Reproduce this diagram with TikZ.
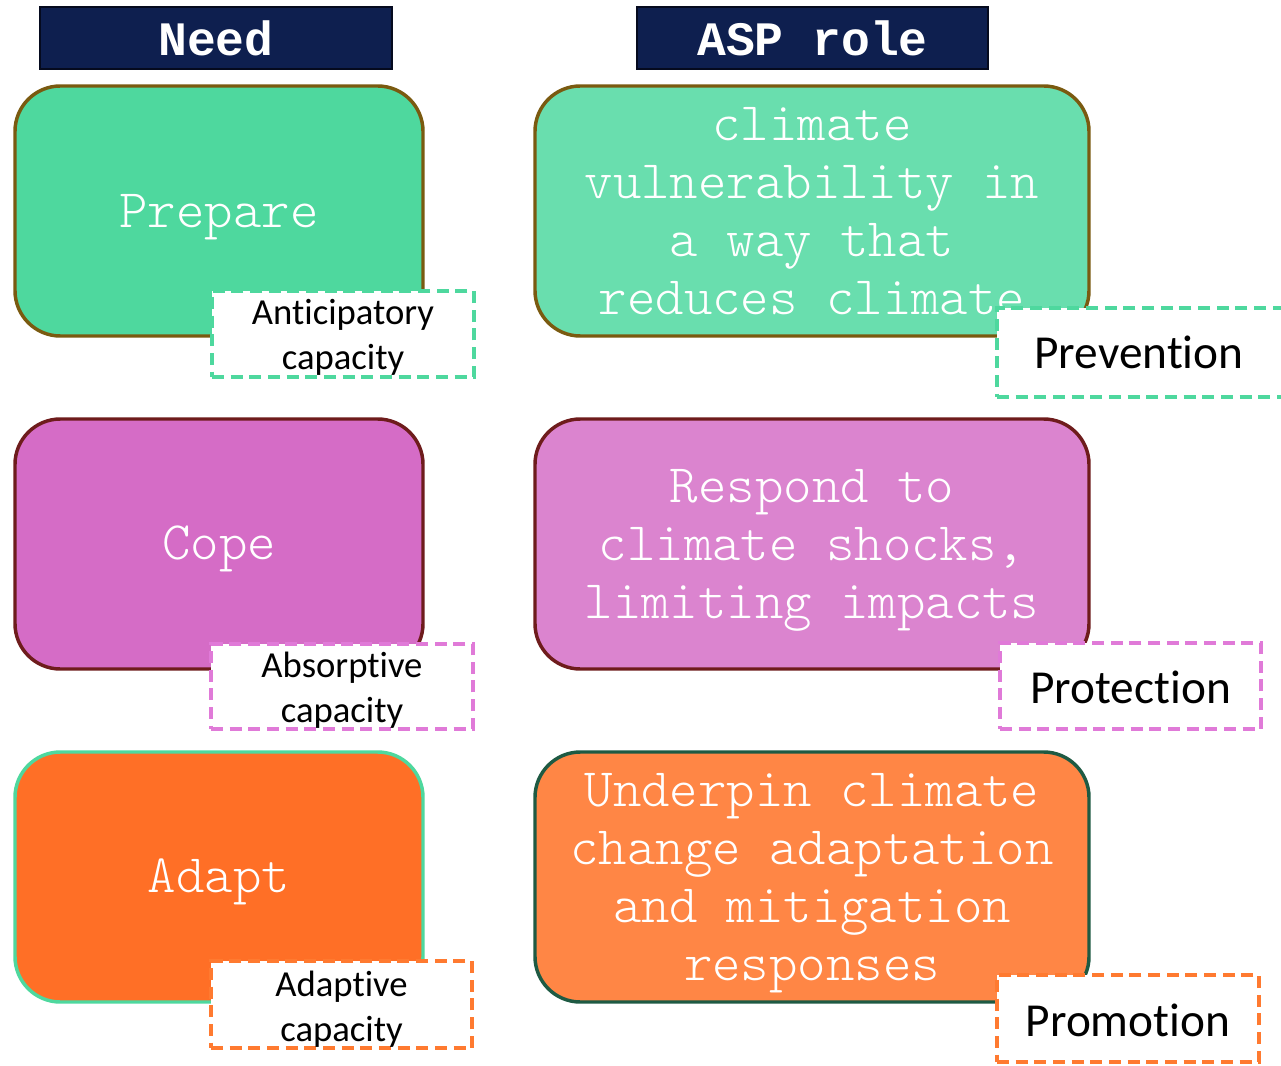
\documentclass[tikz,border=0pt]{standalone}
\usepackage{fontspec}
\setmainfont[Ligatures=NoCommon]{Carlito}
\newfontfamily\monof{Latin Modern Mono Light}
\newfontfamily\monob{Liberation Mono}
\definecolor{navy}{HTML}{0E1F4F}
\definecolor{navyedge}{HTML}{050A1E}
\definecolor{greenA}{HTML}{4ED89E}
\definecolor{greenB}{HTML}{69DEAE}
\definecolor{brownedge}{HTML}{7A5A10}
\definecolor{pinkA}{HTML}{D56CC6}
\definecolor{pinkB}{HTML}{DB84CF}
\definecolor{rededge}{HTML}{6E1C1C}
\definecolor{orangeA}{HTML}{FF6F26}
\definecolor{orangeB}{HTML}{FF8645}
\definecolor{darkgreenedge}{HTML}{1E5A43}
\definecolor{pinkdash}{HTML}{E07AD8}
\definecolor{orangedash}{HTML}{FF7A30}
\begin{document}
\begin{tikzpicture}[x=0.75pt,y=-0.75pt,
  hdr/.style={draw=navyedge, line width=2pt, fill=navy, text=white, inner sep=0pt,
    font=\monob\bfseries\fontsize{36}{40}\selectfont},
  needbox/.style={rounded corners=34pt, line width=2.6pt, inner sep=0pt,
    minimum width=306pt, minimum height=187.5pt},
  rolebox/.style={needbox, minimum width=415.5pt},
  boxtext/.style={inner sep=0pt, text=white, align=center,
    font=\monof\fontsize{40.6}{43.5}\selectfont},
  dashbox/.style={fill=white, line width=2.8pt, dash pattern=on 9pt off 5pt, inner sep=0pt},
  captext/.style={inner sep=0pt, align=center, text=black, font=\fontsize{27.5}{33.75}\selectfont},
  roletext/.style={captext, font=\fontsize{35.5}{42}\selectfont}
]
\useasboundingbox[fill=white] (0,0) rectangle (1281,1066);

% headers
\node[hdr, minimum width=264pt, minimum height=46.5pt] (hneed) at (216,38) {Need};
\node[hdr, minimum width=263.25pt, minimum height=46.5pt] (hrole) at (812.5,38) {ASP role};

% need boxes
\node[needbox, fill=greenA, draw=brownedge] (prepare) at (219,211) {};
\node[needbox, fill=pinkA, draw=rededge] (cope) at (219,544) {};
\node[needbox, fill=orangeA, draw=greenA] (adapt) at (219,877) {};
\node[boxtext] (preparet) at (219,217) {Prepare};
\node[boxtext] (copet) at (219,549) {Cope};
\node[boxtext] (adaptt) at (219,882) {Adapt};

% role boxes
\node[rolebox, fill=greenB, draw=brownedge] (prev) at (812,211) {};
\node[rolebox, fill=pinkB, draw=rededge] (prot) at (812,544) {};
\node[rolebox, fill=orangeB, draw=darkgreenedge] (prom) at (812,877) {};
\node[boxtext] (prevt) at (812,211)
  {climate\\vulnerability in\\a way that\\reduces climate};
\node[boxtext] (prott) at (812,550)
  {Respond to\\climate shocks,\\limiting impacts};
\node[boxtext] (promt) at (812,883.5)
  {Underpin climate\\change adaptation\\and mitigation\\responses};

% capacity labels
\node[dashbox, draw=greenA, minimum width=196.5pt, minimum height=64.5pt] (antic) at (343,334) {};
\node[dashbox, draw=pinkdash, minimum width=196.5pt, minimum height=63.75pt] (absorb) at (342,686.5) {};
\node[dashbox, draw=orangedash, minimum width=195.75pt, minimum height=65.25pt] (adaptcap) at (341.5,1004.5) {};
\node[captext] (antict) at (343,337) {Anticipatory\\capacity};
\node[captext] (absorbt) at (342,690.5) {Absorptive\\capacity};
\node[captext] (adaptcapt) at (341.5,1009.5) {Adaptive\\capacity};

% role labels
\node[dashbox, draw=greenA, minimum width=214.5pt, minimum height=66.75pt] (prevl) at (1140,352.5) {};
\node[dashbox, draw=pinkdash, minimum width=195.75pt, minimum height=64.5pt] (protl) at (1130.5,686) {};
\node[dashbox, draw=orangedash, minimum width=196.5pt, minimum height=65.25pt] (proml) at (1128,1018.5) {};
\node[roletext] (prevlt) at (1139,352.5) {Prevention};
\node[roletext] (protlt) at (1130.5,687) {Protection};
\node[roletext] (promlt) at (1128,1020.5) {Promotion};
\end{tikzpicture}
\end{document}
